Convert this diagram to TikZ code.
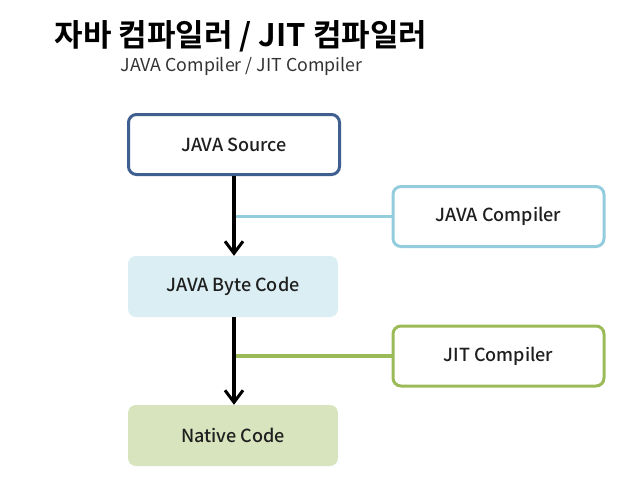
\documentclass[tikz,border=0pt]{standalone}
\usepackage{fontspec}
\setmainfont{Noto Sans CJK KR}
\newfontfamily\titlefont{Noto Sans CJK KR Bold}
\newfontfamily\boxfont{Noto Sans CJK KR Medium}
\usetikzlibrary{arrows.meta}
\definecolor{srcblue}{HTML}{3E5F8F}
\definecolor{compblue}{HTML}{93CDDD}
\definecolor{bytefill}{HTML}{DAEEF3}
\definecolor{jitgreen}{HTML}{9BBB59}
\definecolor{nativefill}{HTML}{D7E4BD}
\tikzset{
  box/.style={rounded corners=8pt, minimum width=#1, minimum height=60pt, inner sep=0pt, font=\boxfont\fontsize{18}{21}\selectfont, text=black!88},
  box/.default=211pt,
  flow/.style={line width=3.2pt, -{Straight Barb[length=12pt,width=18pt,line width=3pt]}},
}
\begin{document}
\begin{tikzpicture}[x=1pt,y=-1pt]
\useasboundingbox (0,0) rectangle (639,490);
\node[anchor=west, font=\titlefont\fontsize{31}{34}\selectfont] (title) at (51,36) {자바 컴파일러 / JIT 컴파일러};
\node[anchor=west, font=\fontsize{17.8}{20}\selectfont, text=black!80] (sub) at (117,66) {JAVA Compiler / JIT Compiler};

\node[box, draw=srcblue, line width=3pt, fill=white] (src) at (234,144.5) {JAVA Source};
\node[box, draw=compblue, line width=3pt, fill=white] (jc) at (498.5,216.5) {JAVA Compiler};
\node[box=210pt, fill=bytefill, minimum height=61pt] (bc) at (233,286.5) {JAVA Byte Code};
\node[box, draw=jitgreen, line width=3pt, fill=white] (jit) at (498.5,356) {JIT Compiler};
\node[box=210pt, fill=nativefill, minimum height=61pt] (nc) at (233,435.5) {Native Code};

\coordinate (j1) at (234,216.5);
\coordinate (j2) at (234,356);
\draw[compblue, line width=3.4pt] (j1) -- (jc.west);
\draw[jitgreen, line width=3.2pt] (j2) -- (jit.west);
\draw[flow] (src.south -| j1) -- (j1 |- bc.north);
\draw[flow] (bc.south -| j2) -- (j2 |- nc.north);
\end{tikzpicture}
\end{document}
